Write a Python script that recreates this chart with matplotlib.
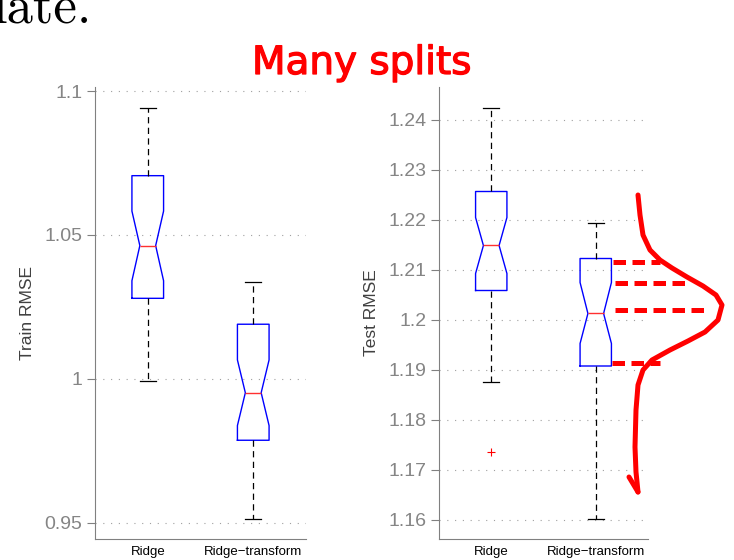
import numpy as np
import matplotlib.pyplot as plt
import matplotlib.patheffects as pe

# box stats (30 splits)
labels = ['Ridge', 'Ridge\u2212transform']

train_med = [1.0463, 0.9952]
train_q1 = [1.0280, 0.9787]
train_q3 = [1.0706, 1.0190]
train_lo = [0.9994, 0.9514]
train_hi = [1.0942, 1.0338]
train_cilo = [1.0341, 0.9838]
train_cihi = [1.0583, 1.0066]
train_out = [[], []]

test_med = [1.2149, 1.2013]
test_q1 = [1.2059, 1.1908]
test_q3 = [1.2257, 1.2123]
test_lo = [1.1875, 1.1602]
test_hi = [1.2425, 1.2193]
test_cilo = [1.2093, 1.1953]
test_cihi = [1.2205, 1.2075]
test_out = [[1.1735], []]

train_ticks = [0.95, 1.0, 1.05, 1.1]
train_ticklabels = ['0.95', '1', '1.05', '1.1']
test_ticks = [1.16, 1.17, 1.18, 1.19, 1.2, 1.21, 1.22, 1.23, 1.24]
test_ticklabels = ['1.16', '1.17', '1.18', '1.19', '1.2', '1.21', '1.22', '1.23', '1.24']

# hand drawn annotation, in pixels of the 734x560 slide
curve_x = [638, 640, 643, 650, 660, 672, 687, 703, 716, 722, 718, 705, 688, 670, 652, 643, 638, 636, 635, 636, 638]
curve_y = [195, 215, 235, 250, 260, 268, 277, 286, 295, 305, 320, 332, 341, 350, 360, 370, 385, 410, 447, 472, 492]
arrow_x = [629, 638]
arrow_y = [477, 492]
dash_y = [262, 283, 310, 363]
dash_x0 = [613, 615, 615, 612]
dash_x1 = [660, 690, 710, 660]

W, H = 734, 560
plt.rcParams['font.family'] = ['Liberation Sans', 'DejaVu Sans']
fig = plt.figure(figsize=(W / 100, H / 100), dpi=100)

def make_stats(med, q1, q3, lo, hi, cilo, cihi, out):
    st = []
    for i in range(len(med)):
        st.append(dict(med=med[i], q1=q1[i], q3=q3[i], whislo=lo[i], whishi=hi[i],
                       cilo=cilo[i], cihi=cihi[i], fliers=out[i], label=labels[i]))
    return st

def draw(ax, stats, ticks, ticklabels, ylim, ylabel):
    ax.bxp(stats, positions=[1, 2], widths=0.3, shownotches=True,
           boxprops=dict(color='#0000ff', lw=1.0),
           medianprops=dict(color='#ff3030', lw=1.0),
           whiskerprops=dict(color='black', lw=0.9, linestyle=(0, (5, 3.5))),
           capprops=dict(color='black', lw=0.9),
           flierprops=dict(marker='+', markeredgecolor='red', markersize=6, markeredgewidth=0.8))
    ax.set_xlim(0.5, 2.5)
    ax.set_ylim(*ylim)
    ax.set_yticks(ticks)
    ax.set_yticklabels(ticklabels)
    ax.yaxis.grid(True, linestyle=(0, (1, 6)), color='#a0a0a0', lw=0.8)
    ax.set_axisbelow(True)
    for s in ['top', 'right']:
        ax.spines[s].set_visible(False)
    for s in ['left', 'bottom']:
        ax.spines[s].set_color('#808080')
    ax.tick_params(axis='y', direction='out', length=6, color='#808080',
                   labelcolor='#858585', labelsize=14, pad=3)
    ax.tick_params(axis='x', length=0, labelsize=9.5, labelcolor='black', pad=5)
    ax.set_ylabel(ylabel, fontsize=12.5, color='#404040', labelpad=7)

ax1 = fig.add_axes([95 / W, 1 - 539 / H, 211 / W, 452 / H])
draw(ax1, make_stats(train_med, train_q1, train_q3, train_lo, train_hi, train_cilo, train_cihi, train_out),
     train_ticks, train_ticklabels, (0.9444, 1.1014), 'Train RMSE')

ax2 = fig.add_axes([439 / W, 1 - 539 / H, 209 / W, 452 / H])
draw(ax2, make_stats(test_med, test_q1, test_q3, test_lo, test_hi, test_cilo, test_cihi, test_out),
     test_ticks, test_ticklabels, (1.1562, 1.2466), 'Test RMSE')

# slide text cut off at the top (as in the screenshot)
fig.text(92 / W, 1 - 23 / H, 'late.', ha='right', va='baseline', fontfamily='cmr10', fontsize=38)

# red ink
ink = dict(color='red', lw=3.6, solid_capstyle='round', solid_joinstyle='round', transform=fig.transFigure)
fig.text(252 / W, 1 - 74 / H, 'Many splits', color='red', fontsize=28, fontfamily='DejaVu Sans',
         ha='left', va='baseline',
         path_effects=[pe.withStroke(linewidth=0.9, foreground='red')])
fig.add_artist(plt.Line2D(np.array(curve_x) / W, 1 - np.array(curve_y) / H, **ink))
fig.add_artist(plt.Line2D(np.array(arrow_x) / W, 1 - np.array(arrow_y) / H, **ink))
for i in range(len(dash_y)):
    fig.add_artist(plt.Line2D([dash_x0[i] / W, dash_x1[i] / W], [1 - dash_y[i] / H, 1 - dash_y[i] / H],
                              color='red', lw=3.6, linestyle=(0, (2.5, 1.3)), transform=fig.transFigure))

fig.savefig('out.png', dpi=100)
